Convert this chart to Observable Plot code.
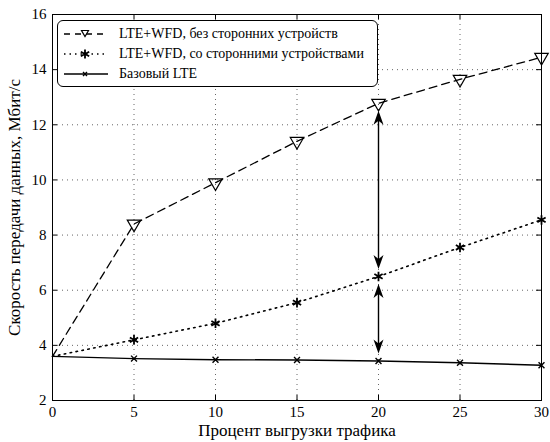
<!DOCTYPE html>
<html>
<head>
<meta charset="utf-8">
<script src="https://cdn.jsdelivr.net/npm/d3@7"></script>
<script src="https://cdn.jsdelivr.net/npm/@observablehq/plot@0.6"></script>
<style>
  body { margin: 0; background: #fff; }
  #wrap { position: relative; width: 550px; height: 442px; font-family: "Liberation Serif", "DejaVu Serif", "Times New Roman", Times, serif; }
  #wrap svg { display: block; }
  .legend {
    position: absolute; left: 57px; top: 20px; width: 321px; height: 67px;
    border: 1px solid #000; border-radius: 6px; background: #fff; box-sizing: border-box;
    padding-top: 3px;
  }
  .legend .row { display: flex; align-items: center; height: 20px; font-size: 14px; color: #000; white-space: nowrap; }
  .legend .row svg { margin-left: 5px; margin-right: 10px; flex: none; }
</style>
</head>
<body>
<div id="wrap"></div>
<script>
// Offload share (%) and resulting data rate (Mbit/s) for each scenario
const offload = [0, 5, 10, 15, 20, 25, 30];
const rateNoThirdParty = [3.6, 8.4, 9.9, 11.4, 12.78, 13.65, 14.45];
const rateWithThirdParty = [3.6, 4.2, 4.8, 5.55, 6.5, 7.55, 8.55];
const rateBaseLte = [3.6, 3.52, 3.48, 3.47, 3.43, 3.37, 3.28];

const seriesNames = [
  "LTE+WFD, без сторонних устройств",
  "LTE+WFD, со сторонними устройствами",
  "Базовый LTE"
];
const xTicks = [0, 5, 10, 15, 20, 25, 30];
const yTicks = [2, 4, 6, 8, 10, 12, 14, 16];
const xLabel = "Процент выгрузки трафика";
const yLabel = "Скорость передачи данных, Мбит/с";
const arrowAt = 20;

const FONT = "'Liberation Serif', 'DejaVu Serif', 'Times New Roman', Times, serif";
const W = 550, H = 442;
const mL = 52, mR = 9, mT = 14, mB = 42;
const innerW = W - mL - mR, innerH = H - mT - mB;

const toRows = (ys) => offload.map((x, i) => ({x, y: ys[i]}));
const s1 = toRows(rateNoThirdParty);
const s2 = toRows(rateWithThirdParty);
const s3 = toRows(rateBaseLte);
// markers are drawn only where offloading is non-zero
const marked = (rows) => rows.filter(d => d.x > 0);

// Double-headed arrows between curves at the chosen offload share
const k = offload.indexOf(arrowAt);
const spans = [
  {x: arrowAt, top: rateNoThirdParty[k], bottom: rateWithThirdParty[k]},
  {x: arrowAt, top: rateWithThirdParty[k], bottom: rateBaseLte[k]}
];

// Arrowhead with a swept-back tail; tip at the origin, pointing up
const arrowHead = {
  draw(ctx) {
    ctx.moveTo(0, 0);
    ctx.lineTo(5, 14);
    ctx.lineTo(0, 10);
    ctx.lineTo(-5, 14);
    ctx.closePath();
  }
};

const grid = {stroke: "#666", strokeOpacity: 1, strokeDasharray: "1,4", strokeWidth: 1};

const chart = Plot.plot({
  width: W, height: H,
  marginLeft: mL, marginRight: mR, marginTop: mT, marginBottom: mB,
  style: {fontFamily: FONT, fontSize: "14px", color: "#000", background: "#fff"},
  x: {domain: [0, 30]},
  y: {domain: [2, 16]},
  marks: [
    Plot.gridX(xTicks, grid),
    Plot.gridY(yTicks, grid),
    // inward tick marks on all four sides
    Plot.tickX(xTicks, {x: d => d, insetTop: innerH - 5, stroke: "#000"}),
    Plot.tickX(xTicks, {x: d => d, insetBottom: innerH - 5, stroke: "#000"}),
    Plot.tickY(yTicks, {y: d => d, insetRight: innerW - 5, stroke: "#000"}),
    Plot.tickY(yTicks, {y: d => d, insetLeft: innerW - 5, stroke: "#000"}),
    Plot.axisX(xTicks, {tickSize: 0, tickPadding: 6, label: null, fontSize: 15, fontFamily: FONT}),
    Plot.axisY(yTicks, {tickSize: 0, tickPadding: 6, label: null, fontSize: 15, fontFamily: FONT}),
    Plot.frame({stroke: "#000", strokeWidth: 1}),
    // curves
    Plot.line(s1, {x: "x", y: "y", stroke: "#000", strokeWidth: 1.3, strokeDasharray: "8,5"}),
    Plot.line(s2, {x: "x", y: "y", stroke: "#000", strokeWidth: 1.6, strokeDasharray: "1.5,4.5"}),
    Plot.line(s3, {x: "x", y: "y", stroke: "#000", strokeWidth: 1.4}),
    Plot.dot(marked(s1), {x: "x", y: "y", symbol: "triangle", rotate: 180, r: 5, stroke: "#000", strokeWidth: 1.2, fill: "none"}),
    Plot.dot(marked(s2), {x: "x", y: "y", symbol: "asterisk", r: 4.5, stroke: "#000", strokeWidth: 1.8}),
    Plot.dot(marked(s3), {x: "x", y: "y", symbol: "times", r: 2.8, stroke: "#000", strokeWidth: 1.4}),
    // arrows
    Plot.ruleX(spans, {x: "x", y1: "top", y2: "bottom", insetTop: 12, insetBottom: 12, stroke: "#000", strokeWidth: 1.4}),
    Plot.dot(spans, {x: "x", y: "top", dy: 7.5, symbol: arrowHead, fill: "#000", stroke: "none"}),
    Plot.dot(spans, {x: "x", y: "bottom", dy: -7.5, symbol: arrowHead, rotate: 180, fill: "#000", stroke: "none"}),
    // axis titles
    Plot.text([xLabel], {text: d => d, frameAnchor: "bottom", dy: 30, textAnchor: "middle", lineAnchor: "middle", fontSize: 17, fontFamily: FONT}),
    Plot.text([yLabel], {text: d => d, frameAnchor: "left", dx: -38, rotate: -90, textAnchor: "middle", lineAnchor: "middle", fontSize: 17, fontFamily: FONT})
  ]
});

const wrap = document.getElementById("wrap");
wrap.appendChild(chart);

// Legend box inside the plot area
const samples = [
  {dash: "6,5", symbol: "tri"},
  {dash: "1.5,4", symbol: "ast"},
  {dash: null, symbol: "x"}
];
const legend = document.createElement("div");
legend.className = "legend";
seriesNames.forEach((name, i) => {
  const row = document.createElement("div");
  row.className = "row";
  const s = samples[i];
  let marker = "";
  if (s.symbol === "tri") marker = '<path d="M18.5,3.5 L25.5,3.5 L22,9.5 Z" fill="#fff" stroke="#000" stroke-width="1.2"/>';
  if (s.symbol === "ast") marker = '<path d="M22,2.5 V11.5 M17.8,4.8 L26.2,9.2 M17.8,9.2 L26.2,4.8" stroke="#000" stroke-width="1.8"/>';
  if (s.symbol === "x") marker = '<path d="M20,5 L24,9 M20,9 L24,5" stroke="#000" stroke-width="1.4"/>';
  row.innerHTML =
    `<svg width="46" height="14" viewBox="0 0 46 14">` +
    `<line x1="1" y1="7" x2="45" y2="7" stroke="#000" stroke-width="${s.symbol === 'ast' ? 1.6 : 1.3}"${s.dash ? ` stroke-dasharray="${s.dash}"` : ""}/>` +
    marker + `</svg><span>${name}</span>`;
  legend.appendChild(row);
});
wrap.appendChild(legend);
</script>
</body>
</html>
